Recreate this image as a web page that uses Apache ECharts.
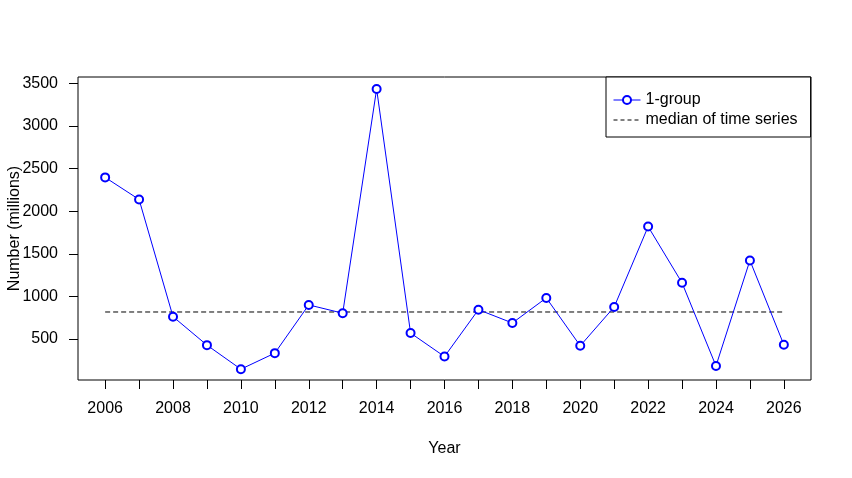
<!DOCTYPE html>
<html>
<head>
<meta charset="utf-8">
<script src="https://cdn.jsdelivr.net/npm/echarts@6/dist/echarts.min.js"></script>
<style>
  html, body { margin: 0; padding: 0; background: #fff; }
  #chart { width: 852px; height: 478px; }
</style>
</head>
<body>
<div id="chart"></div>
<script>
const years = [2006, 2007, 2008, 2009, 2010, 2011, 2012, 2013, 2014, 2015, 2016,
  2017, 2018, 2019, 2020, 2021, 2022, 2023, 2024, 2025, 2026]
const groupValues = [2397, 2138, 763, 429, 147, 335, 901, 804, 3434, 571, 295,
  845, 689, 983, 421, 877, 1820, 1160, 185, 1423, 433]
const medianValue = 818
const xTickYears = years
const xLabelYears = [2006, 2008, 2010, 2012, 2014, 2016, 2018, 2020, 2022, 2024, 2026]
const yTicks = [500, 1000, 1500, 2000, 2500, 3000, 3500]

const font = 'Liberation Sans, Arial, sans-serif'
const chart = echarts.init(document.getElementById('chart'))

const option = {
  animation: false,
  backgroundColor: '#fff',
  textStyle: { fontFamily: font },
  grid: {
    left: 78, right: 41, top: 77, bottom: 98,
    outerBoundsMode: 'none',
    containLabel: false,
    show: true, borderColor: '#000', borderWidth: 1, backgroundColor: 'transparent'
  },
  legend: {
    left: 606,
    top: 77,
    orient: 'vertical',
    backgroundColor: '#fff',
    borderColor: '#000',
    borderWidth: 1,
    borderRadius: 0,
    padding: [15, 13, 9, 7],
    itemWidth: 27,
    itemHeight: 10,
    itemGap: 4,
    itemTextGap: 12,
    textStyle: { color: '#000', fontSize: 16, fontFamily: font },
    data: [
      {
        name: '1-group',
        lineStyle: { color: '#0000ff', width: 1, type: 'solid' },
        itemStyle: { color: '#0000ff', borderColor: '#0000ff', borderWidth: 1.2 }
      },
      {
        name: 'median of time series',
        lineStyle: { color: '#000', width: 1, type: [4, 3] },
        itemStyle: { opacity: 0 }
      }
    ]
  },
  xAxis: {
    type: 'value',
    min: 2005.2,
    max: 2026.8,
    name: 'Year',
    nameLocation: 'middle',
    nameGap: 61,
    nameMoveOverlap: false,
    nameTextStyle: { color: '#000', fontSize: 16 },
    axisLine: { show: false },
    axisTick: { show: true, inside: false, length: 9, customValues: xTickYears, lineStyle: { color: '#000' } },
    axisLabel: { color: '#000', fontSize: 16, margin: 21, customValues: xLabelYears, formatter: v => String(v) },
    splitLine: { show: false }
  },
  yAxis: {
    type: 'value',
    min: 20,
    max: 3575,
    name: 'Number (millions)',
    nameLocation: 'middle',
    nameGap: 55,
    nameMoveOverlap: false,
    nameTextStyle: { color: '#000', fontSize: 16 },
    axisLine: { show: false },
    axisTick: { show: true, inside: false, length: 9, customValues: yTicks, lineStyle: { color: '#000' } },
    axisLabel: { color: '#000', fontSize: 16, margin: 20, customValues: yTicks, formatter: v => String(v) },
    splitLine: { show: false }
  },
  series: [
    {
      name: '1-group',
      type: 'line',
      data: years.map((y, i) => [y, groupValues[i]]),
      symbol: 'emptyCircle',
      symbolSize: 8,
      showAllSymbol: true,
      color: '#0000ff',
      lineStyle: { color: '#0000ff', width: 1, type: 'solid' },
      itemStyle: { color: '#0000ff', borderColor: '#0000ff', borderWidth: 1.2 },
      emphasis: { disabled: true },
      z: 3
    },
    {
      name: 'median of time series',
      type: 'line',
      data: [[years[0], medianValue], [years[years.length - 1], medianValue]],
      symbol: 'none',
      color: '#000',
      lineStyle: { color: '#000', width: 1, type: [5, 3] },
      emphasis: { disabled: true },
      z: 2
    }
  ]
}
option && chart.setOption(option)
</script>
</body>
</html>
